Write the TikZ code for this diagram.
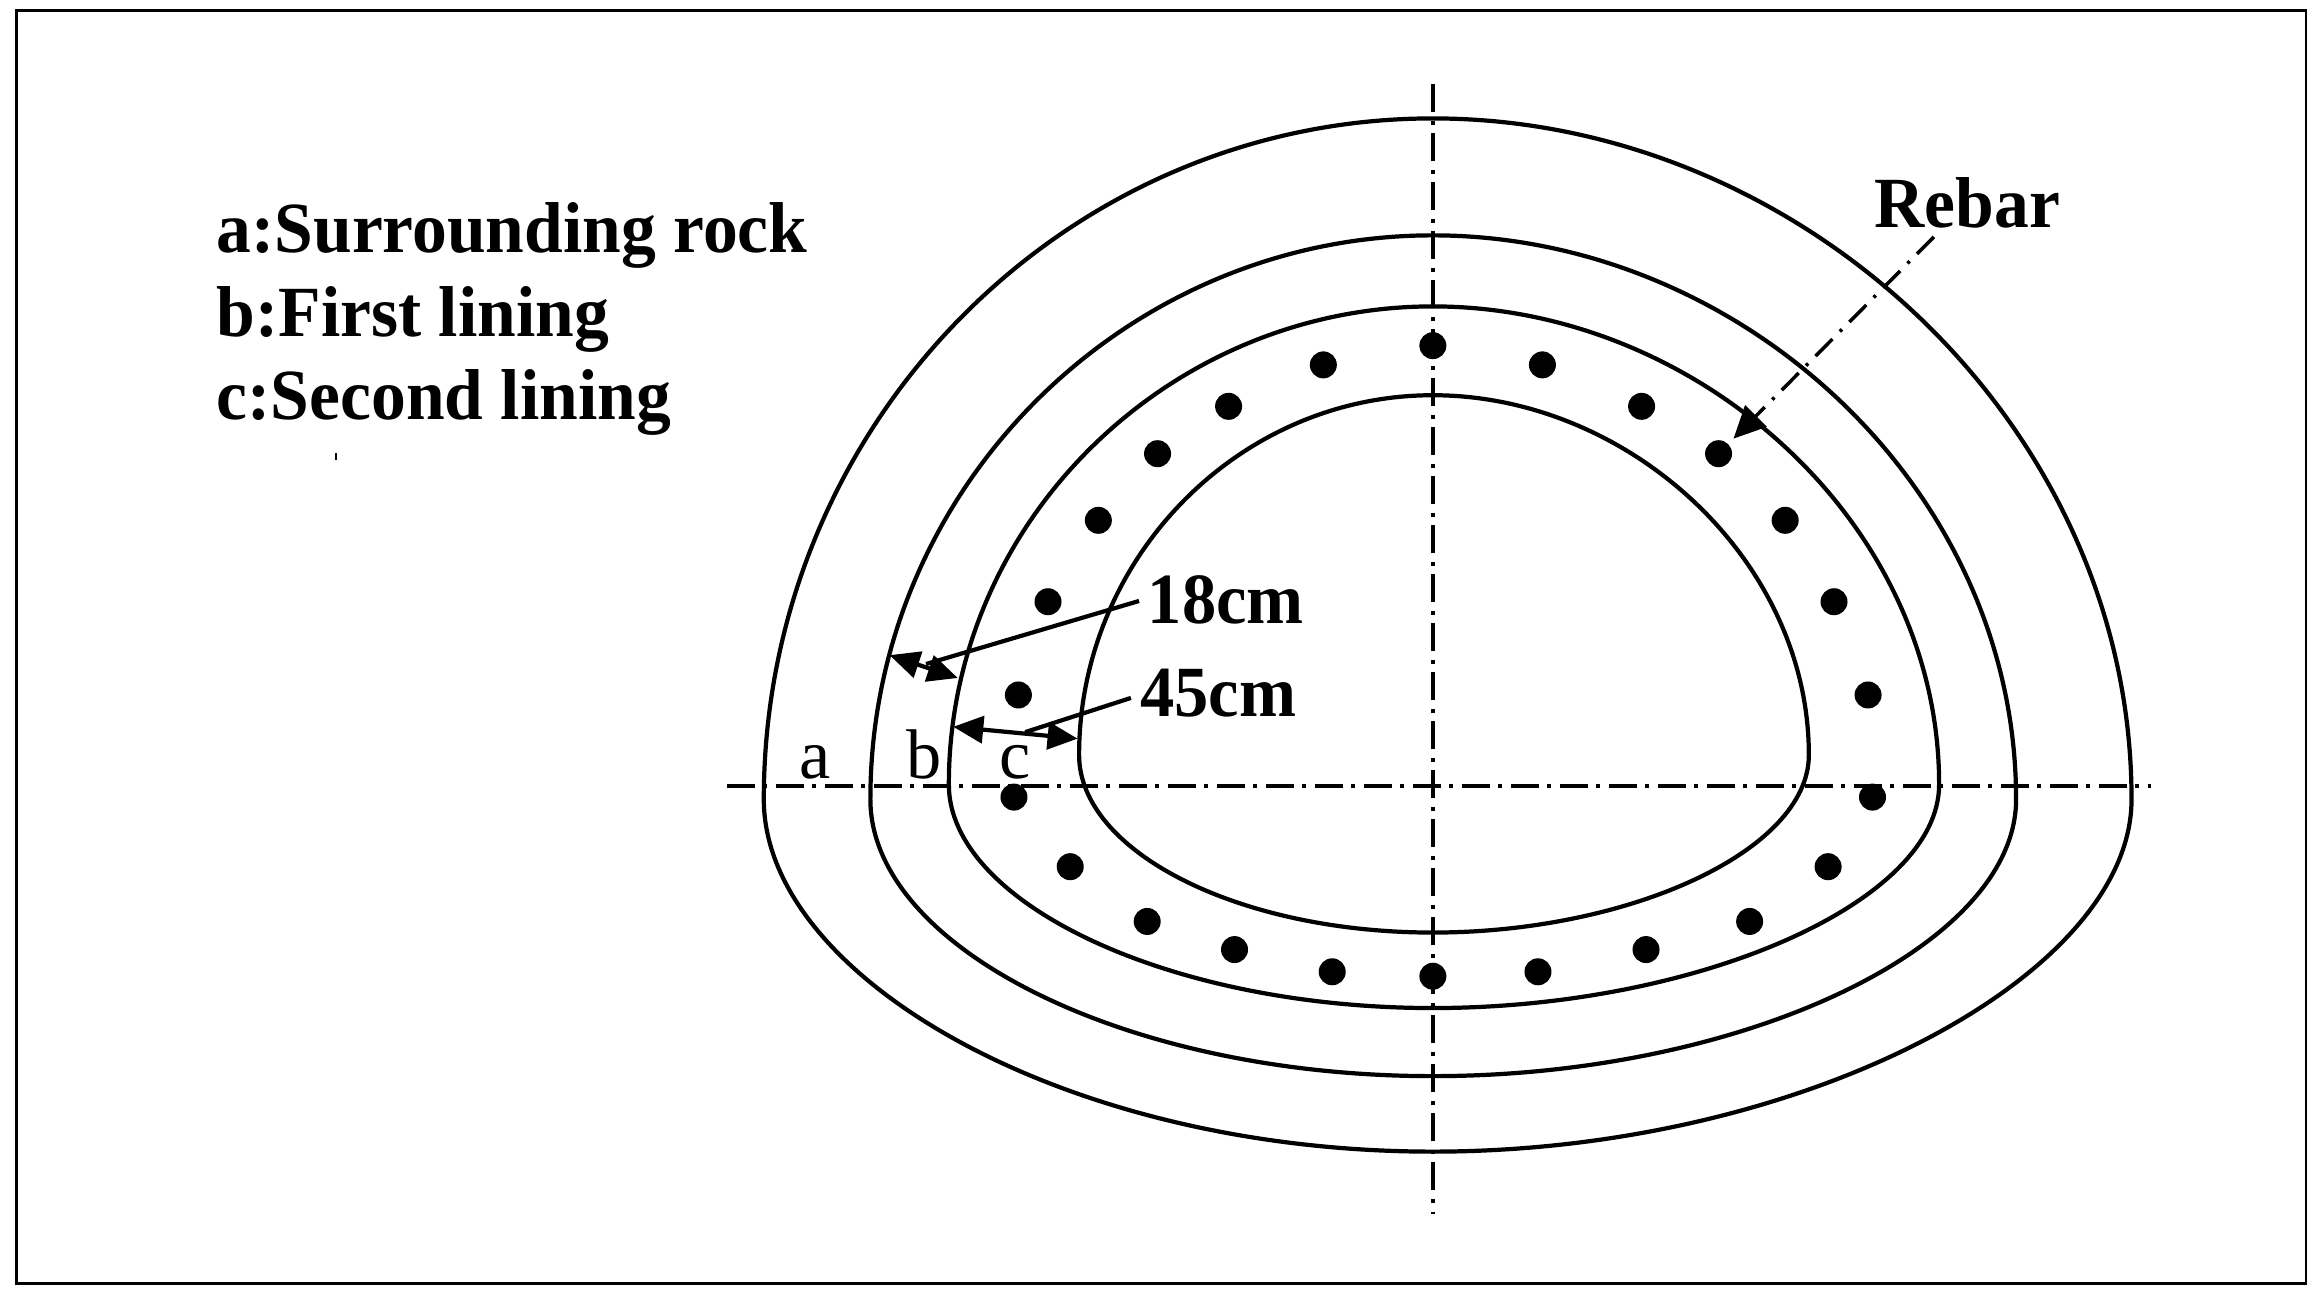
\documentclass[tikz,border=0pt]{standalone}
\usepackage{fontspec}
\setmainfont{Liberation Serif}
\usetikzlibrary{arrows.meta}
\newcommand{\narrowtext}[2]{\scalebox{#1}[1]{#2}}
\tikzset{
  ring/.style={line width=1.2pt,black},
  axis/.style={line width=1.0pt,black,dash pattern=on 0.28cm off 0.085cm on 0.04cm off 0.085cm},
  pointer/.style={line width=1.0pt,black,dash pattern=on 0.24cm off 0.105cm on 0.03cm off 0.105cm,-{Triangle[length=0.32cm,width=0.3cm]}},
  rebar/.style={circle,fill=black,inner sep=0pt,minimum size=0.27cm},
  bold label/.style={anchor=base west,inner sep=0pt,font=\fontsize{20.5}{24}\selectfont\bfseries},
  zone/.style={anchor=base,inner sep=0pt,font=\fontsize{20}{24}\selectfont},
  leader/.style={line width=1.2pt,black},
  dim/.style={line width=1.2pt,black,{Triangle[length=0.3cm,width=0.27cm]}-{Triangle[length=0.3cm,width=0.27cm]}}
}
\begin{document}
\begin{tikzpicture}[x=0.014802cm,y=-0.014802cm]
\useasboundingbox (0,0) rectangle (1568,875.5);
\draw[line width=0.7pt] (11,7) rectangle (1558,867);
% axes
\coordinate (vt) at (968,57); \coordinate (vb) at (968,820);
\coordinate (hl) at (491,531); \coordinate (hr) at (1453,531);
\draw[axis] (vt) -- (vb);
\draw[axis] (hl) -- (hr);
% rings
\draw[ring] (516,540) .. controls (516,287) and (719,80) .. (968,80)
  .. controls (1217,80) and (1440,287) .. (1440,540)
  .. controls (1440,660) and (1217,778) .. (968,778)
  .. controls (719,778) and (516,660) .. (516,540) -- cycle;
\draw[ring] (588,540) .. controls (588,330) and (760,159) .. (968,159)
  .. controls (1176,159) and (1362,330) .. (1362,540)
  .. controls (1362,640) and (1176,727) .. (968,727)
  .. controls (760,727) and (588,640) .. (588,540) -- cycle;
\draw[ring] (641,530) .. controls (641,352) and (790,207) .. (968,207)
  .. controls (1146,207) and (1310,352) .. (1310,530)
  .. controls (1310,610) and (1146,681) .. (968,681)
  .. controls (790,681) and (641,610) .. (641,530) -- cycle;
\draw[ring] (729,510) .. controls (729,378) and (836,267) .. (968,267)
  .. controls (1100,267) and (1222,378) .. (1222,510)
  .. controls (1222,575) and (1100,630) .. (968,630)
  .. controls (836,630) and (729,575) .. (729,510) -- cycle;
% rebars
\foreach \i/\p in {1/{894,246.5},2/{968,233.5},3/{1042,246.5},4/{1109,274.5},5/{1161,306.5},6/{1206,351.5},7/{1239,406.5},8/{1262,469.5},9/{1265,538.5},10/{1235,585.5},11/{1182,622.5},12/{1112,641.5},13/{1039,656.5},14/{968,659.5},15/{900,656.5},16/{834,641.5},17/{775,622.5},18/{723,585.5},19/{685,538.5},20/{688,469.5},21/{708,406.5},22/{742,351.5},23/{782,306.5},24/{830,274.5}}
  \node[rebar] (r\i) at (\p) {};
% legend
\node[bold label] (l1) at (146,170.5) {\narrowtext{0.965}{a:Surrounding rock}};
\node[bold label] (l2) at (146,227) {\narrowtext{0.965}{b:First lining}};
\node[bold label] (l3) at (146,283.5) {\narrowtext{0.965}{c:Second lining}};
\node[bold label] (rebarlabel) at (1266,154) {\narrowtext{0.965}{Rebar}};
\node[bold label] (d18) at (775,421) {\narrowtext{0.95}{18cm}};
\node[bold label] (d45) at (770,484) {\narrowtext{0.95}{45cm}};
\node[zone] (za) at (550.5,526) {a};
\node[zone] (zb) at (624,526) {b};
\node[zone] (zc) at (686,526) {c};
\coordinate (spk) at (227,306); \coordinate (spk2) at (227,311);
\draw[line width=0.6pt] (spk) -- (spk2);
% rebar arrow
\coordinate (ra) at (1306.5,160);
\draw[pointer,shorten >=0.07cm] (ra) -- (r5);
% dimensions
\coordinate (a1) at (601,442.6); \coordinate (a2) at (647,458);
\coordinate (b1) at (644,491); \coordinate (b2) at (728,499);
\coordinate (l18e) at (769.5,406); \coordinate (l18s) at (625.6,448.6);
\coordinate (l45e) at (764,471.5); \coordinate (l45s) at (692.6,494.6);
\draw[dim] (a1) -- (a2);
\draw[dim] (b1) -- (b2);
\draw[leader] (l18e) -- (l18s);
\draw[leader] (l45e) -- (l45s);
\end{tikzpicture}
\end{document}
